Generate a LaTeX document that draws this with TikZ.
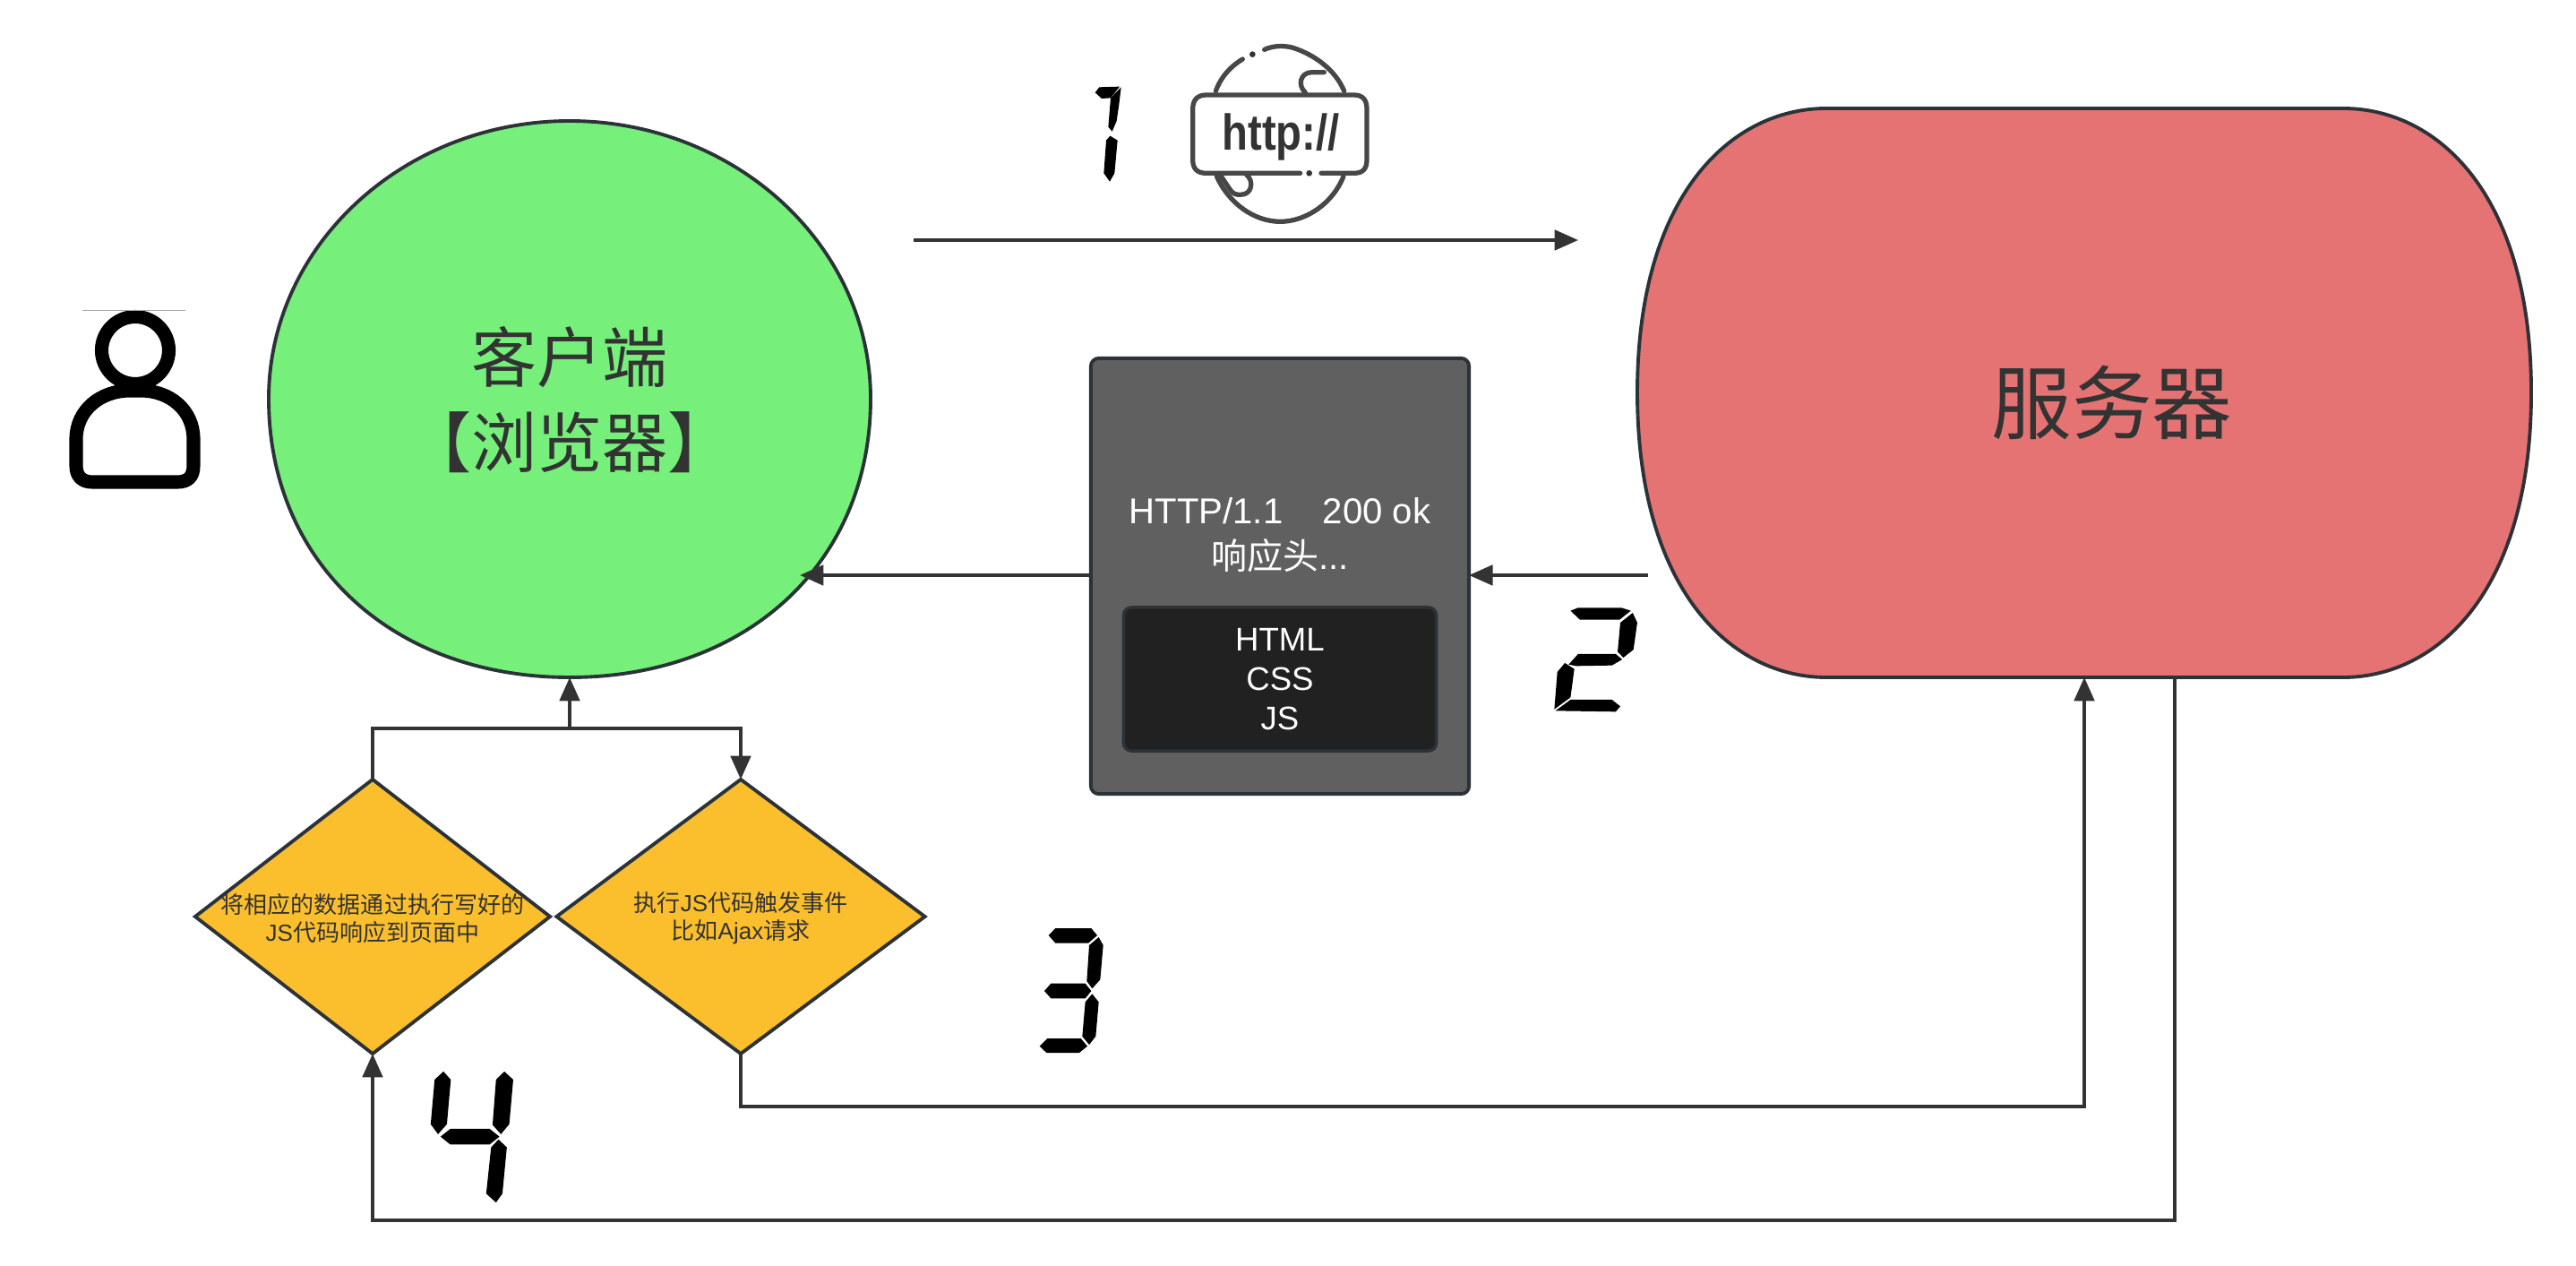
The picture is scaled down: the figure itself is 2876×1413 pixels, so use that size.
\documentclass[tikz,border=0pt]{standalone}
\usepackage{fontspec}
\setmainfont{Liberation Sans}
\newfontfamily\cjk{Noto Sans CJK SC}
\usetikzlibrary{arrows.meta,shapes.geometric}
\definecolor{edge}{HTML}{2B3238}
\definecolor{wire}{HTML}{333333}
\definecolor{ink}{HTML}{333333}
\definecolor{cgreen}{HTML}{76EF7B}
\definecolor{cred}{HTML}{E57373}
\definecolor{corange}{HTML}{FBBF2D}
\definecolor{cgrey}{HTML}{606060}
\definecolor{cdark}{HTML}{212121}
\tikzset{
  wirearrow/.style={draw=wire,line width=1pt,-{Triangle[length=7.5pt,width=6.4pt]}},
  wireplain/.style={draw=wire,line width=1pt},
  shapeline/.style={draw=edge,line width=1.1pt},
  decision/.style={diamond,shapeline,fill=corange,inner sep=0pt,outer sep=0pt},
  seg/.style={fill=black,draw=none},
  icon/.style={draw=wire!90,line width=1.5pt,line cap=round},
}
\begin{document}
\begin{tikzpicture}[x=0.01cm,y=-0.01cm]
\useasboundingbox (0,0) rectangle (2876,1413);
\fill[white] (0,0) rectangle (2876,1413);

% client
\path[shapeline,fill=cgreen] (636,135)
  .. controls (821,135) and (972,274) .. (972,445)
  .. controls (972,628) and (834,756) .. (636,756)
  .. controls (438,756) and (300,628) .. (300,445)
  .. controls (300,274) and (451,135) .. (636,135) -- cycle;
\node[ellipse,minimum width=673*0.2845pt,minimum height=622*0.2845pt,inner sep=0pt,outer sep=0pt,text=ink,align=center,font=\fontsize{20.8}{27}\selectfont\cjk] (client) at (636,446) {客户端\\【浏览器】};

% server
\path[shapeline,fill=cred] (2039,121) -- (2616,121)
  .. controls (2721,121) and (2826,216) .. (2826,438)
  .. controls (2826,660) and (2721,756) .. (2616,756)
  -- (2039,756)
  .. controls (1934,756) and (1828,660) .. (1828,438)
  .. controls (1828,216) and (1934,121) .. (2039,121) -- cycle;
\node[text=ink,font=\fontsize{25.5}{30}\selectfont\cjk] (server) at (2358,449) {服务器};
\coordinate (srvOut) at (1840,642);
\coordinate (srvIn) at (2327,756);
\coordinate (srvDown) at (2428,756);

% response box
\node[draw=edge,line width=1.1pt,fill=cgrey,rounded corners=2.5pt,minimum width=422*0.2845pt,minimum height=486*0.2845pt,inner sep=0pt,outer sep=0pt] (resp) at (1429,643) {};
\node[draw=edge,line width=1pt,fill=cdark,rounded corners=2.5pt,minimum width=349*0.2845pt,minimum height=160*0.2845pt,inner sep=0pt,outer sep=0pt,text=white,align=center,font=\fontsize{10.4}{12.5}\selectfont] (body) at (1429,758) {HTML\\CSS\\JS};
\node[text=white,align=center,font=\fontsize{11.4}{14.5}\selectfont] (head) at (1429,597) {HTTP/1.1 \ \ \ 200 ok\\{\cjk 响应头}...};

% decisions
\node[decision,minimum width=396*0.2845pt,minimum height=306*0.2845pt,aspect=1.294] (d1) at (416,1023) {};
\node[decision,minimum width=411*0.2845pt,minimum height=306*0.2845pt,aspect=1.343] (d2) at (827,1023) {};
\node[text=ink,align=center,font=\fontsize{7.4}{8.9}\selectfont,inner sep=0pt] (t1) at (416,1025) {{\cjk 将相应的数据通过执行写好的}\\JS{\cjk 代码响应到页面中}};
\node[text=ink,align=center,font=\fontsize{7.4}{8.9}\selectfont,inner sep=0pt] (t2) at (827,1025) {{\cjk 执行}JS{\cjk 代码触发事件}\\{\cjk 比如}Ajax{\cjk 请求}};

% connectors
\coordinate (reqS) at (1020,268);
\coordinate (reqE) at (1762,268);
\coordinate (cIn) at (893,642);
\coordinate (junc) at (636,813);
\coordinate (cBot) at (636,756);
\draw[wirearrow] (reqS) -- (reqE);
\draw[wirearrow] (srvOut) -- (srvOut -| resp.east);
\draw[wirearrow] (resp.west |- srvOut) -- (cIn);
\draw[wireplain] (d1.north) |- (junc);
\draw[wirearrow] (junc) -- (cBot);
\draw[wirearrow] (junc) -| (d2.north);
\draw[wirearrow] (d2.south) |- (1600,1235) -| (srvIn);
\draw[wirearrow] (srvDown) |- (1400,1362) -| (d1.south);

% person
\draw[black,line width=4.3pt] (151,391) circle (37.5);
\draw[black,line width=4.3pt,line join=round] (85,490)
  .. controls (85,458) and (112,436) .. (145,436) -- (157,436)
  .. controls (190,436) and (216,458) .. (216,490)
  -- (216,520) .. controls (216,532) and (210,538) .. (198,538)
  -- (103,538) .. controls (92,538) and (85,532) .. (85,520) -- cycle;
\draw[gray!70,line width=0.25pt] (92,346) -- (207,346);

% digit 1
\begin{scope}[shift={(1150,20)},xscale=1/3,yscale=1/3]
\fill[seg] (218,250)--(232,232)--(300,230)--(270,268)--(240,270)--cycle;
\fill[seg] (305,232)--(298,290)--(290,345)--(275,380)--(262,365)--(270,268)--cycle;
\fill[seg] (268,395)--(293,410)--(283,520)--(267,548)--(247,520)--(255,410)--cycle;
% http icon
\draw[icon] (622,245) .. controls (640,195) and (675,160) .. (712,138);
\fill[wire] (745,122) circle (10);
\draw[icon] (785,106) .. controls (815,92) and (860,90) .. (895,105)
  .. controls (975,135) and (1030,190) .. (1052,245);
\draw[icon] (625,530) .. controls (665,620) and (750,682) .. (838,682)
  .. controls (925,682) and (1015,620) .. (1050,530);
\draw[icon] (985,182) -- (945,182) .. controls (905,182) and (895,225) .. (922,250);
\draw[icon] (640,530) -- (670,575) .. controls (680,590) and (690,592) .. (705,592)
  .. controls (745,592) and (750,545) .. (725,525);
\draw[icon] (905,520) -- (590,520) .. controls (560,520) and (545,505) .. (545,475)
  -- (545,305) .. controls (545,275) and (560,258) .. (590,258)
  -- (1085,258) .. controls (1115,258) and (1128,275) .. (1128,305)
  -- (1128,475) .. controls (1128,505) and (1115,520) .. (1085,520) -- (975,520);
\fill[wire] (935,520) circle (10);
\node[text=wire,font=\fontsize{16}{16}\selectfont\bfseries,inner sep=0pt,xscale=0.84] (httpt) at (840,400) {http://};
\end{scope}

% digit 2
\begin{scope}[shift={(1200,380)},xscale=1/2.376,yscale=1/3]
\fill[seg] (1315,905)--(1335,895)--(1450,895)--(1475,905)--(1445,935)--(1340,935)--cycle;
\fill[seg] (1480,912)--(1492,945)--(1482,1035)--(1455,1062)--(1440,1042)--(1447,945)--cycle;
\fill[seg] (1310,1085)--(1335,1050)--(1435,1050)--(1452,1068)--(1425,1088)--(1330,1090)--cycle;
\fill[seg] (1300,1080)--(1325,1100)--(1315,1195)--(1272,1235)--(1280,1110)--cycle;
\fill[seg] (1275,1240)--(1315,1203)--(1425,1203)--(1447,1225)--(1435,1243)--cycle;
\end{scope}

% digit 3
\begin{scope}[shift={(1130,1000)},xscale=1/3,yscale=1/3]
\fill[seg] (122,132)--(145,108)--(265,108)--(285,132)--(255,158)--(145,158)--cycle;
\fill[seg] (290,138)--(305,165)--(295,280)--(268,310)--(250,285)--(258,165)--cycle;
\fill[seg] (108,318)--(130,293)--(245,293)--(265,318)--(245,343)--(130,343)--cycle;
\fill[seg] (268,328)--(290,355)--(280,470)--(258,498)--(235,470)--(245,355)--cycle;
\fill[seg] (92,503)--(118,477)--(230,477)--(252,503)--(225,525)--(115,525)--cycle;
\end{scope}

% digit 4
\begin{scope}[shift={(200,750)},xscale=1/1.823,yscale=1/2.516]
\fill[seg] (538,1122)--(553,1145)--(545,1270)--(527,1298)--(512,1270)--(520,1145)--cycle;
\fill[seg] (662,1122)--(680,1145)--(672,1270)--(655,1298)--(638,1272)--(645,1145)--cycle;
\fill[seg] (532,1305)--(552,1283)--(632,1283)--(652,1305)--(632,1327)--(552,1327)--cycle;
\fill[seg] (650,1313)--(667,1335)--(658,1465)--(645,1490)--(625,1465)--(635,1335)--cycle;
\end{scope}
\end{tikzpicture}
\end{document}
